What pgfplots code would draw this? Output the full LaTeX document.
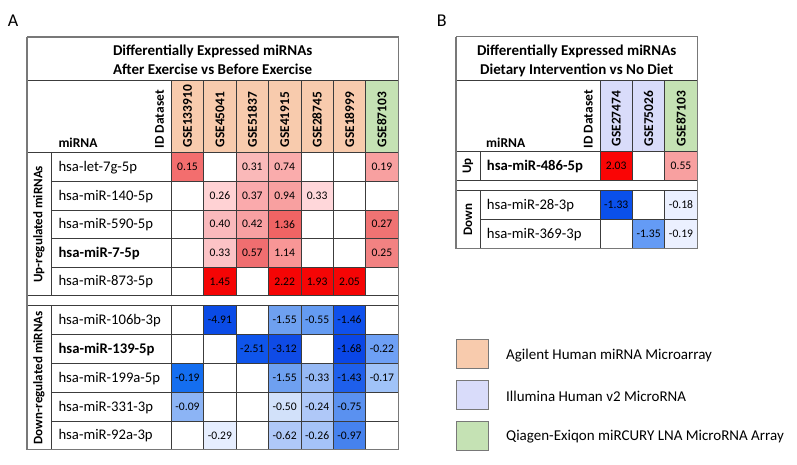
\documentclass[border=0pt]{standalone}
\usepackage{pgfplots}
\pgfplotsset{compat=1.18}
\usepackage{fontspec}
\setmainfont{Carlito}

\definecolor{gridc}{RGB}{60,60,60}
\definecolor{outc}{RGB}{120,120,120}
\definecolor{agil}{RGB}{248,203,173}
\definecolor{illu}{RGB}{217,220,250}
\definecolor{qiag}{RGB}{197,226,180}

\newcommand\fs[1]{\fontsize{#1}{#1}\selectfont}

% heat cell: centre x, centre y, R, G, B, value
\newcommand\cell[6]{%
  \pgfmathsetmacro\xa{#1-16.2}\pgfmathsetmacro\xb{#1+16.2}%
  \pgfmathsetmacro\ya{#2-14.35}\pgfmathsetmacro\yb{#2+14.35}%
  \edef\temp{\noexpand\addplot[draw=none, mark=none, fill={rgb,255:red,#3;green,#4;blue,#5}] coordinates {(\xa,\ya) (\xb,\ya) (\xb,\yb) (\xa,\yb)};%
   \noexpand\node[inner sep=0pt, font=\noexpand\fs{11.6}] at (axis cs:#1,#2) {#6};}%
  \temp}
% header cell: centre x, bottom y, colour, dataset
\newcommand\hdr[4]{%
  \pgfmathsetmacro\xa{#1-16.2}\pgfmathsetmacro\xb{#1+16.2}%
  \pgfmathsetmacro\yt{#2-5.2}%
  \edef\temp{\noexpand\addplot[draw=none, mark=none, fill=#3] coordinates {(\xa,80.3) (\xb,80.3) (\xb,#2) (\xa,#2)};%
   \noexpand\node[rotate=90, anchor=west, inner sep=0pt, font=\noexpand\bfseries\noexpand\fs{13.4}] at (axis cs:#1,\yt) {#4};}%
  \temp}
\newcommand\vl[3]{\addplot[gridc, line width=0.7pt, mark=none] coordinates {(#1,#2) (#1,#3)};}
\newcommand\hl[3]{\addplot[gridc, line width=0.7pt, mark=none] coordinates {(#2,#1) (#3,#1)};}

\begin{document}
\begin{tikzpicture}
\begin{axis}[width=797pt, height=464pt, scale only axis,
  xmin=0, xmax=797, ymin=0, ymax=464,
  y dir=reverse, hide axis, clip=false]
\addplot[draw=none, mark=none] coordinates {(0,0) (797,464)};

% ---- header cells ----
\hdr{187.5}{152.7}{agil}{GSE133910}
\hdr{219.9}{152.7}{agil}{GSE45041}
\hdr{252.3}{152.7}{agil}{GSE51837}
\hdr{284.7}{152.7}{agil}{GSE41915}
\hdr{317.1}{152.7}{agil}{GSE28745}
\hdr{349.5}{152.7}{agil}{GSE18999}
\hdr{381.9}{152.7}{qiag}{GSE87103}
\hdr{616.2}{151.7}{illu}{GSE27474}
\hdr{648.6}{151.7}{illu}{GSE75026}
\hdr{681.0}{151.7}{qiag}{GSE87103}

% ---- heat cells, panel A up ----
\cell{187.5}{167.0}{243}{110}{110}{0.15}
\cell{252.3}{167.0}{250}{185}{185}{0.31}
\cell{284.7}{167.0}{250}{172}{172}{0.74}
\cell{381.9}{167.0}{248}{160}{160}{0.19}
\cell{219.9}{195.6}{255}{210}{212}{0.26}
\cell{252.3}{195.6}{250}{170}{172}{0.37}
\cell{284.7}{195.6}{248}{160}{160}{0.94}
\cell{317.1}{195.6}{255}{215}{218}{0.33}
\cell{219.9}{224.2}{250}{185}{188}{0.40}
\cell{252.3}{224.2}{248}{160}{162}{0.42}
\cell{284.7}{224.2}{240}{100}{100}{1.36}
\cell{381.9}{224.2}{240}{115}{115}{0.27}
\cell{219.9}{252.8}{252}{195}{198}{0.33}
\cell{252.3}{252.8}{240}{110}{112}{0.57}
\cell{284.7}{252.8}{248}{150}{150}{1.14}
\cell{381.9}{252.8}{242}{130}{130}{0.25}
\cell{219.9}{281.4}{245}{5}{5}{1.45}
\cell{284.7}{281.4}{245}{5}{5}{2.22}
\cell{317.1}{281.4}{245}{5}{5}{1.93}
\cell{349.5}{281.4}{245}{5}{5}{2.05}
% ---- panel A down ----
\cell{219.9}{320.1}{10}{75}{230}{-4.91}
\cell{284.7}{320.1}{110}{160}{240}{-1.55}
\cell{317.1}{320.1}{100}{155}{242}{-0.55}
\cell{349.5}{320.1}{15}{80}{235}{-1.46}
\cell{252.3}{348.9}{15}{85}{235}{-2.51}
\cell{284.7}{348.9}{15}{75}{230}{-3.12}
\cell{349.5}{348.9}{10}{70}{230}{-1.68}
\cell{381.9}{348.9}{110}{160}{245}{-0.22}
\cell{187.5}{377.7}{20}{110}{240}{-0.19}
\cell{284.7}{377.7}{110}{160}{240}{-1.55}
\cell{317.1}{377.7}{150}{185}{245}{-0.33}
\cell{349.5}{377.7}{30}{95}{235}{-1.43}
\cell{381.9}{377.7}{160}{195}{248}{-0.17}
\cell{187.5}{406.5}{140}{180}{245}{-0.09}
\cell{284.7}{406.5}{210}{225}{250}{-0.50}
\cell{317.1}{406.5}{175}{200}{248}{-0.24}
\cell{349.5}{406.5}{90}{145}{240}{-0.75}
\cell{219.9}{435.3}{230}{238}{255}{-0.29}
\cell{284.7}{435.3}{175}{200}{248}{-0.62}
\cell{317.1}{435.3}{165}{195}{248}{-0.26}
\cell{349.5}{435.3}{70}{130}{238}{-0.97}
% ---- panel B ----
\cell{616.2}{166.0}{250}{5}{5}{2.03}
\cell{681.0}{166.0}{248}{160}{160}{0.55}
\cell{616.2}{205.0}{10}{80}{235}{-1.33}
\cell{681.0}{205.0}{235}{240}{255}{-0.18}
\cell{648.6}{233.8}{100}{155}{245}{-1.35}
\cell{681.0}{233.8}{235}{240}{255}{-0.19}

% ---- legend boxes ----
\addplot[fill=agil, draw=outc, line width=0.9pt, mark=none] coordinates {(456,339.3) (488.3,339.3) (488.3,368.3) (456,368.3) (456,339.3)};
\addplot[fill=illu, draw=outc, line width=0.9pt, mark=none] coordinates {(456,380.4) (488.3,380.4) (488.3,409.4) (456,409.4) (456,380.4)};
\addplot[fill=qiag, draw=outc, line width=0.9pt, mark=none] coordinates {(456,421.4) (488.3,421.4) (488.3,450.4) (456,450.4) (456,421.4)};

% ---- grid lines panel A ----
\vl{171.3}{80.3}{295.7}\vl{171.3}{305.7}{449.7}
\vl{203.7}{80.3}{295.7}\vl{203.7}{305.7}{449.7}
\vl{236.1}{80.3}{295.7}\vl{236.1}{305.7}{449.7}
\vl{268.5}{80.3}{295.7}\vl{268.5}{305.7}{449.7}
\vl{300.9}{80.3}{295.7}\vl{300.9}{305.7}{449.7}
\vl{333.3}{80.3}{295.7}\vl{333.3}{305.7}{449.7}
\vl{365.7}{80.3}{295.7}\vl{365.7}{305.7}{449.7}
\vl{51}{152.7}{295.7}\vl{51}{305.7}{449.7}
\hl{80.3}{27}{398.4}
\hl{152.7}{27}{398.4}
\hl{181.3}{51}{398.4}
\hl{209.9}{51}{398.4}
\hl{238.5}{51}{398.4}
\hl{267.1}{51}{398.4}
\hl{295.7}{27}{398.4}
\hl{305.7}{27}{398.4}
\hl{334.5}{51}{398.4}
\hl{363.3}{51}{398.4}
\hl{392.1}{51}{398.4}
\hl{420.9}{51}{398.4}
% ---- grid lines panel B ----
\vl{600}{80.3}{180.3}\vl{600}{190.7}{248.3}
\vl{632.4}{80.3}{180.3}\vl{632.4}{190.7}{248.3}
\vl{664.8}{80.3}{180.3}\vl{664.8}{190.7}{248.3}
\vl{480}{151.7}{180.3}\vl{480}{190.7}{248.3}
\hl{80.3}{456}{697.3}
\hl{151.7}{456}{697.3}
\hl{180.3}{456}{697.3}
\hl{190.7}{456}{697.3}
\hl{219.3}{480}{697.3}

% ---- outer borders ----
\addplot[outc, line width=1.2pt, mark=none] coordinates {(27,37) (398.4,37) (398.4,449.7) (27,449.7) (27,37)};
\addplot[outc, line width=1.2pt, mark=none] coordinates {(456,36.7) (697.3,36.7) (697.3,248.3) (456,248.3) (456,36.7)};

% panel letters
\node[font=\fs{18}] at (axis cs:13,20.5) {A};
\node[font=\fs{18}] at (axis cs:441.7,20.5) {B};

% titles
\node[anchor=base, font=\bfseries\fs{15}] at (axis cs:212.7,55) {Differentially Expressed miRNAs};
\node[anchor=base, font=\bfseries\fs{15}] at (axis cs:212.7,74) {After Exercise vs Before Exercise};
\node[anchor=base, font=\bfseries\fs{15}] at (axis cs:576.7,55) {Differentially Expressed miRNAs};
\node[anchor=base, font=\bfseries\fs{15}] at (axis cs:576.7,74) {Dietary Intervention vs No Diet};

% header corner labels
\node[anchor=base west, inner sep=0pt, font=\bfseries\fs{13.5}] at (axis cs:58.3,147.7) {miRNA};
\node[anchor=base west, inner sep=0pt, font=\bfseries\fs{13.5}] at (axis cs:486,147.7) {miRNA};
\node[rotate=90, anchor=west, inner sep=0pt, font=\bfseries\fs{13.4}] at (axis cs:159.5,148.3) {ID Dataset};
\node[rotate=90, anchor=west, inner sep=0pt, font=\bfseries\fs{13.4}] at (axis cs:588.3,148.3) {ID Dataset};

% group labels
\node[rotate=90, font=\bfseries\fs{13}] at (axis cs:39,224.2) {Up-regulated miRNAs};
\node[rotate=90, font=\bfseries\fs{13}] at (axis cs:39,377.7) {Down-regulated miRNAs};
\node[rotate=90, font=\bfseries\fs{13}] at (axis cs:468,166) {Up};
\node[rotate=90, font=\bfseries\fs{13}] at (axis cs:468,219.5) {Down};

% miRNA names
\node[anchor=base west, inner sep=0pt, font=\fs{14.7}] at (axis cs:58.3,171.5) {hsa-let-7g-5p};
\node[anchor=base west, inner sep=0pt, font=\fs{14.7}] at (axis cs:58.3,200.1) {hsa-miR-140-5p};
\node[anchor=base west, inner sep=0pt, font=\fs{14.7}] at (axis cs:58.3,228.7) {hsa-miR-590-5p};
\node[anchor=base west, inner sep=0pt, font=\bfseries\fs{14.7}] at (axis cs:58.3,257.3) {hsa-miR-7-5p};
\node[anchor=base west, inner sep=0pt, font=\fs{14.7}] at (axis cs:58.3,285.9) {hsa-miR-873-5p};
\node[anchor=base west, inner sep=0pt, font=\fs{14.7}] at (axis cs:58.3,324.6) {hsa-miR-106b-3p};
\node[anchor=base west, inner sep=0pt, font=\bfseries\fs{14.7}] at (axis cs:58.3,353.4) {hsa-miR-139-5p};
\node[anchor=base west, inner sep=0pt, font=\fs{14.7}] at (axis cs:58.3,382.2) {hsa-miR-199a-5p};
\node[anchor=base west, inner sep=0pt, font=\fs{14.7}] at (axis cs:58.3,411.0) {hsa-miR-331-3p};
\node[anchor=base west, inner sep=0pt, font=\fs{14.7}] at (axis cs:58.3,439.8) {hsa-miR-92a-3p};
\node[anchor=base west, inner sep=0pt, font=\bfseries\fs{14.7}] at (axis cs:486.7,170.5) {hsa-miR-486-5p};
\node[anchor=base west, inner sep=0pt, font=\fs{14.7}] at (axis cs:486.7,209.5) {hsa-miR-28-3p};
\node[anchor=base west, inner sep=0pt, font=\fs{14.7}] at (axis cs:486.7,238.3) {hsa-miR-369-3p};

% legend texts
\node[anchor=west, inner sep=0pt, font=\fs{15}] at (axis cs:506,355.7) {Agilent Human miRNA Microarray};
\node[anchor=west, inner sep=0pt, font=\fs{15}] at (axis cs:506,396.7) {Illumina Human v2 MicroRNA};
\node[anchor=west, inner sep=0pt, font=\fs{15}] at (axis cs:506,436.7) {Qiagen-Exiqon miRCURY LNA MicroRNA Array};
\end{axis}
\end{tikzpicture}
\end{document}
